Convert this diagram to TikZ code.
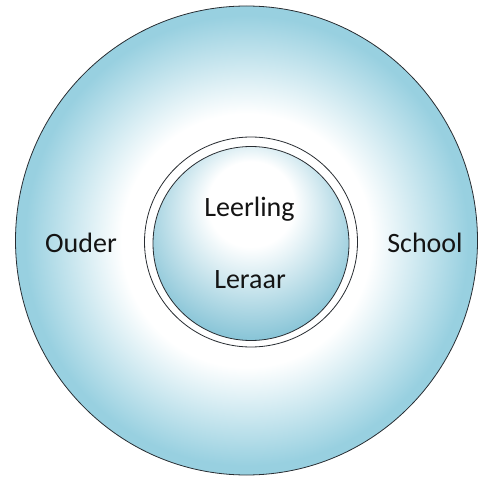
\documentclass[tikz,border=0pt]{standalone}
\usepackage{fontspec}
\setmainfont{Carlito}
\usetikzlibrary{shapes.geometric}
\definecolor{edgeblue}{RGB}{152,208,224}
\definecolor{innerblue}{RGB}{86,172,198}
\definecolor{linegray}{RGB}{40,45,50}
\definecolor{textgray}{RGB}{20,20,20}
\pgfdeclareradialshading{outershade}{\pgfpoint{0bp}{0bp}}{color(0bp)=(white); color(13.5bp)=(white); color(24bp)=(edgeblue); color(50bp)=(edgeblue)}
\pgfdeclareradialshading{innershade}{\pgfpoint{0bp}{13bp}}{color(0bp)=(white); color(11bp)=(white); color(38bp)=(innerblue); color(50bp)=(innerblue)}
\tikzset{
  disc/.style={ellipse, draw=linegray, line width=0.8pt, inner sep=0pt},
  label/.style={font=\fontsize{28}{30}\selectfont, text=textgray, anchor=base, inner sep=0pt}
}
\begin{document}
\begin{tikzpicture}[x=1pt,y=1pt]
\useasboundingbox (0,0) rectangle (479,477);
\node[disc, shading=outershade, minimum width=462pt, minimum height=469pt] (outer) at (246.5,236.5) {};
\node[disc, fill=white, minimum width=213pt, minimum height=210pt] (ring) at (251,235) {};
\node[disc, shading=innershade, minimum width=196pt, minimum height=194pt] (inner) at (251,233.5) {};
\node[label] (leerling) at (249.5,260.3) {Leerling};
\node[label] (leraar) at (250,189) {Leraar};
\node[label] (ouder) at (81,224.3) {Ouder};
\node[label] (school) at (425,224.3) {School};
\end{tikzpicture}
\end{document}
